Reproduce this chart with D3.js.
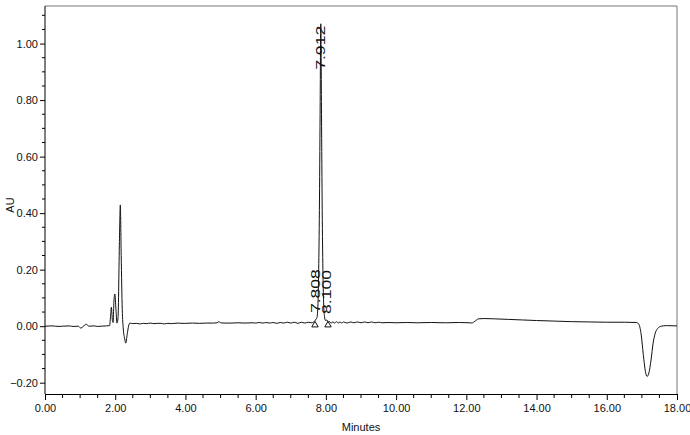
<!DOCTYPE html>
<html><head><meta charset="utf-8">
<script src="https://cdn.jsdelivr.net/npm/d3@7"></script>
<style>
body{margin:0;background:#fff;}
text{font-family:"Liberation Sans",Arial,sans-serif;}
</style></head>
<body><svg id="c" width="690" height="435"></svg>
<script>
const times = [0,0.2,0.4,0.5,0.7,0.8,0.95,1.02,1.08,1.17,1.25,1.4,1.5,1.6,1.75,1.84,
1.87,1.89,1.92,1.94,1.96,1.99,2.02,2.05,2.08,2.12,2.145,2.17,2.20,2.23,2.27,2.30,2.34,2.38,2.42,2.5,
2.6,2.7,2.8,2.9,3.0,3.1,3.2,3.3,3.4,3.5,3.6,3.7,3.8,3.9,4.0,4.2,4.4,4.6,4.8,4.9,4.95,5.0,5.1,5.3,5.5,5.7,5.9,
6.0,6.1,6.2,6.3,6.4,6.5,6.6,6.7,6.8,6.9,7.0,7.1,7.2,7.3,7.4,7.5,7.6,7.65,7.70,7.72,7.745,7.775,7.795,7.815,7.835,7.855,7.875,7.895,7.915,7.935,7.96,7.99,8.03,8.06,
8.1,8.15,8.2,8.25,8.3,8.35,8.4,8.45,8.5,8.6,8.7,8.8,8.9,9.0,9.1,9.2,9.3,9.4,9.5,9.6,9.8,10.0,10.3,10.6,11.0,11.4,11.8,12.1,12.15,12.25,12.35,12.5,12.8,13.2,13.6,14.0,14.5,15.0,15.5,16.0,16.5,16.85,
16.92,16.98,17.04,17.10,17.15,17.20,17.26,17.32,17.38,17.45,17.55,17.7,18.0];
const absorbance = [0.000,0.001,-0.001,0.000,0.001,-0.001,0.000,-0.007,-0.002,0.007,0.000,0.001,-0.001,0.000,0.001,0.002,
0.04,0.067,0.02,0.013,0.08,0.114,0.06,0.011,0.03,0.30,0.429,0.25,0.06,-0.01,-0.045,-0.060,-0.03,0.0,0.011,0.009,
0.010,0.008,0.010,0.009,0.011,0.009,0.010,0.010,0.008,0.010,0.009,0.010,0.011,0.010,0.010,0.011,0.010,0.011,0.011,0.012,0.016,0.012,0.011,0.011,0.012,0.011,0.012,
0.011,0.013,0.011,0.013,0.011,0.013,0.010,0.013,0.011,0.014,0.011,0.014,0.010,0.014,0.011,0.014,0.012,0.015,0.021,0.025,0.030,0.080,0.20,0.41,0.75,1.07,0.75,0.41,0.20,0.085,0.035,0.020,0.022,0.014,
0.016,0.011,0.015,0.011,0.016,0.011,0.015,0.011,0.015,0.011,0.015,0.012,0.015,0.012,0.015,0.012,0.015,0.012,0.014,0.012,0.013,0.012,0.013,0.012,0.013,0.012,0.013,0.012,0.011,0.018,0.026,0.027,0.026,0.024,0.022,0.020,0.018,0.016,0.015,0.014,0.014,0.013,
0.005,-0.03,-0.10,-0.16,-0.178,-0.165,-0.12,-0.06,-0.025,-0.008,0.0,0.002,0.001];
const peakTimes = [7.72, 7.855, 8.03];
const peakHeights = [0.025, 1.07, 0.022];
const peakLabels = ["7.808", "7.912", "8.100"];
const markerTimes = [7.69, 8.06];
const markerValues = [0.004, 0.004];
const xTicks = [0,2,4,6,8,10,12,14,16,18];
const yTicks = [-0.2,0,0.2,0.4,0.6,0.8,1.0];
const xLabel = "Minutes";
const yLabel = "AU";

const svg = d3.select("#c");
const L=45, R=677, T=6, B=394;
const x = d3.scaleLinear().domain([0,18]).range([L,R]);
const y = d3.scaleLinear().domain([-0.24,1.133]).range([B,T]);

// frame (top/right)
svg.append("path").attr("d",`M${L},${T}H${R}V${B}`).attr("fill","none").attr("stroke","#777").attr("stroke-width",1);

// minor ticks
const xMinor = d3.range(0,18.001,0.5).filter(v=>Math.abs(v/2-Math.round(v/2))>1e-6);
const yMinor = d3.range(-0.2,1.1001,0.05).filter(v=>Math.abs(v/0.2-Math.round(v/0.2))>1e-6);

const xAxis = svg.append("g").attr("transform",`translate(0,${B})`)
  .call(d3.axisBottom(x).tickValues(xTicks).tickFormat(d3.format(".2f")).tickSize(6).tickPadding(4));
xAxis.select(".domain").attr("stroke","#000");
xAxis.selectAll("text").attr("font-size",11).attr("fill","#111");
xAxis.append("g").selectAll("line").data(xMinor).join("line")
  .attr("x1",d=>x(d)).attr("x2",d=>x(d)).attr("y1",0).attr("y2",4).attr("stroke","#000");

const yAxis = svg.append("g").attr("transform",`translate(${L},0)`)
  .call(d3.axisLeft(y).tickValues(yTicks).tickFormat(d3.format(".2f")).tickSize(5).tickPadding(2));
yAxis.select(".domain").attr("stroke","#000").attr("d",`M0,${B}V${T}`);
yAxis.selectAll("text").attr("font-size",11).attr("fill","#111");
yAxis.append("g").selectAll("line").data(yMinor).join("line")
  .attr("y1",d=>y(d)).attr("y2",d=>y(d)).attr("x1",0).attr("x2",-3).attr("stroke","#000");

// axis titles
svg.append("text").attr("x",(L+R)/2).attr("y",431).attr("text-anchor","middle").attr("font-size",11).attr("fill","#111").text(xLabel);
svg.append("text").attr("transform",`translate(14,${(T+B)/2+5}) rotate(-90)`).attr("text-anchor","middle").attr("font-size",11).attr("fill","#111").text(yLabel);

// trace
const pts = times.map((t,i)=>[t,absorbance[i]]);
svg.append("path").datum(pts)
  .attr("d",d3.line().x(d=>x(d[0])).y(d=>y(d[1])).curve(d3.curveMonotoneX))
  .attr("fill","none").attr("stroke","#111").attr("stroke-width",1);

// markers
const tri = d3.symbol().type(d3.symbolTriangle).size(18);
svg.selectAll(".mk").data(markerTimes).join("path")
  .attr("transform",(d,i)=>`translate(${x(d)},${y(markerValues[i])})`)
  .attr("d",tri).attr("fill","none").attr("stroke","#111").attr("stroke-width",1);

// peak labels
peakLabels.forEach((lab,i)=>{
  const px = x(peakTimes[i]), py = y(peakHeights[i]);
  const tooHigh = py - 50 < T;
  const ay = tooHigh ? py + 2 : py - 6;
  svg.append("text")
    .attr("transform",`translate(${px+4},${ay}) rotate(-90)`)
    .attr("text-anchor", tooHigh ? "end" : "start")
    .attr("font-size",12).attr("fill","#111")
    .attr("textLength",44).attr("lengthAdjust","spacingAndGlyphs")
    .text(lab);
});
</script></body></html>
